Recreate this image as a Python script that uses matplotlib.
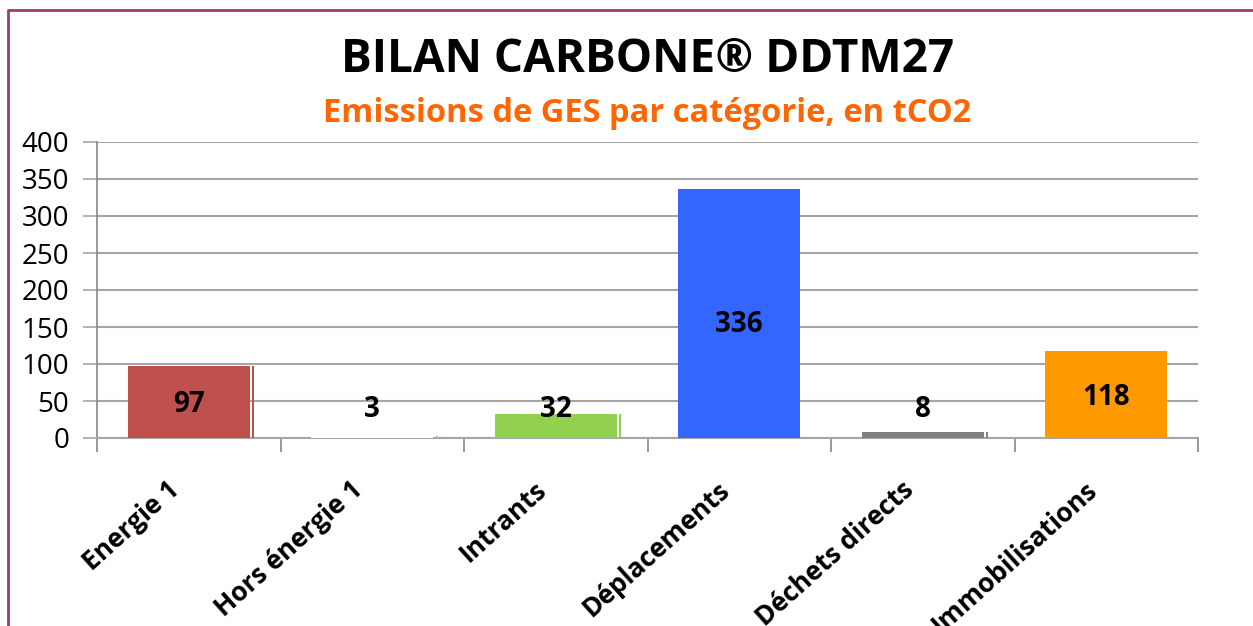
import matplotlib.pyplot as plt
from matplotlib.lines import Line2D
from matplotlib.transforms import ScaledTranslation

# données
categories = ['Energie 1', 'Hors énergie 1', 'Intrants', 'Déplacements', 'Déchets directs', 'Immobilisations']
emissions = [97, 3, 32, 336, 8, 118]
couleurs = ['#C0504D', '#FFFFFF', '#92D050', '#3366FF', '#808080', '#FF9900']
ombres = ['#C0504D', '#E6A0A8', '#92D050', 'none', '#808080', 'none']
# hauteur des étiquettes de valeur (en tCO2)
pos_etiquettes = [45, 38, 38, 154, 38, 55]
yticks = list(range(0, 401, 50))

plt.rcParams['font.family'] = ['Open Sans', 'DejaVu Sans']

W, H = 1253, 626
fig = plt.figure(figsize=(W / 100, H / 100), dpi=100)
ax = fig.add_axes([97 / W, 1 - 438 / H, (1198 - 97) / W, (438 - 142) / H])

x = list(range(len(categories)))
ax.bar(x, emissions, width=0.665, color=couleurs, zorder=3)
# petit trait d'ombre à droite des barres
ax.bar([i + 0.352 for i in x], emissions, width=0.012, color=ombres, zorder=3)

for i, v in enumerate(emissions):
    ax.text(i, pos_etiquettes[i], str(v), ha='center', va='center',
            fontsize=20, fontweight='bold', color='black', zorder=4)

ax.set_xlim(-0.5, len(categories) - 0.5)
ax.set_ylim(0, 400)
ax.set_yticks(yticks)
ax.set_yticklabels([str(t) for t in yticks], fontsize=20)
ax.yaxis.grid(True, color='#A6A6A6', linewidth=1.5, zorder=0)

ax.set_xticks([i - 0.5 for i in range(len(categories) + 1)])
ax.set_xticklabels([])
ax.tick_params(axis='x', length=10, width=1.2, color='#888888')
ax.tick_params(axis='y', length=10, width=1.2, color='#A6A6A6', pad=10)

for s in ['top', 'right']:
    ax.spines[s].set_visible(False)
ax.spines['left'].set_color('#888888')
ax.spines['bottom'].set_color('#A6A6A6')
ax.spines['left'].set_linewidth(1.2)
ax.spines['bottom'].set_linewidth(1.5)

decal = ax.get_xaxis_transform() + ScaledTranslation(-0.22, -0.38, fig.dpi_scale_trans)
for i, cat in enumerate(categories):
    ax.text(i, 0, cat, transform=decal, rotation=42, rotation_mode='anchor',
            ha='right', va='top', fontsize=19, fontweight='bold')

cx = (97 + 1198) / 2 / W
fig.text(cx, 1 - 59 / H, 'BILAN CARBONE® DDTM27', ha='center', va='center',
         fontsize=33, fontweight='bold', color='black')
fig.text(cx, 1 - 114 / H, 'Emissions de GES par catégorie, en tCO2', ha='center', va='center',
         fontsize=23.5, fontweight='bold', color='#FF6600')

# cadre du graphique
fig.add_artist(Line2D([8 / W, 8 / W, 1.0], [0.0, 1 - 10 / H, 1 - 10 / H],
                      transform=fig.transFigure, color='#A3386E', linewidth=2))

fig.savefig('out.png', dpi=100)
